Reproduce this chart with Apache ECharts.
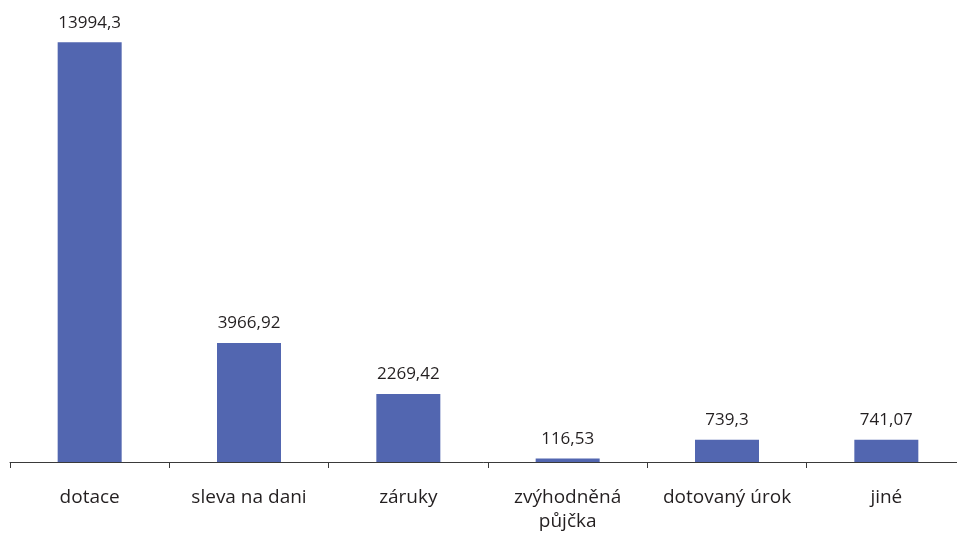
<!DOCTYPE html>
<html>
<head>
<meta charset="utf-8">
<script src="https://cdn.jsdelivr.net/npm/echarts@6/dist/echarts.min.js"></script>
<style>
  html, body { margin: 0; padding: 0; background: #fff; }
  #chart { width: 957px; height: 533px; }
</style>
</head>
<body>
<div id="chart"></div>
<script>
// kategorie a hodnoty
const categories = ["dotace", "sleva na dani", "záruky", "zvýhodněná\npůjčka", "dotovaný úrok", "jiné"];
const values = [13994.3, 3966.92, 2269.42, 116.53, 739.3, 741.07];

const chart = echarts.init(document.getElementById("chart"));
chart.setOption({
  animation: false,
  backgroundColor: "#ffffff",
  grid: { left: 10, top: 42, width: 956, height: 420, outerBoundsMode: "none", containLabel: false },
  xAxis: {
    type: "category",
    data: categories,
    axisLine: { lineStyle: { color: "#3a3a3a", width: 1 } },
    axisTick: { show: true, length: 6, lineStyle: { color: "#3a3a3a" } },
    axisLabel: {
      color: "#231f20",
      fontFamily: "Open Sans",
      fontSize: 19,
      margin: 24,
      lineHeight: 24,
      interval: 0
    }
  },
  yAxis: {
    type: "value",
    min: 0,
    max: 14000,
    show: false,
    splitLine: { show: false }
  },
  series: [{
    type: "bar",
    data: values,
    barWidth: 64,
    itemStyle: { color: "#5266b0" },
    label: {
      show: true,
      position: "top",
      distance: 11,
      color: "#231f20",
      fontFamily: "Open Sans",
      fontSize: 17,
      formatter: p => String(p.value).replace(".", ",")
    }
  }]
});
</script>
</body>
</html>
